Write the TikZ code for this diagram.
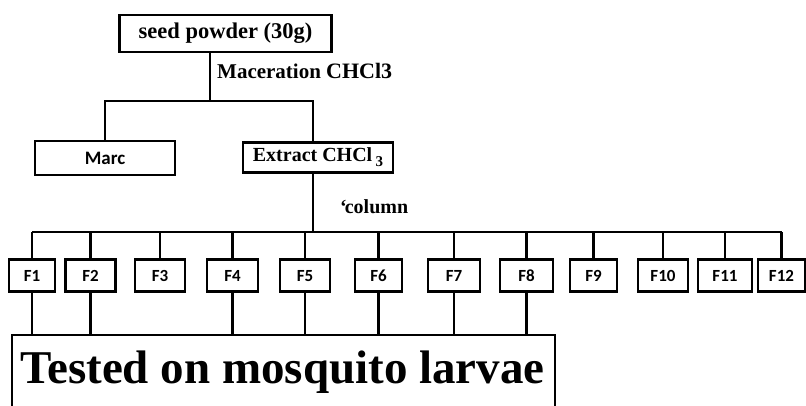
\documentclass[tikz,border=0pt]{standalone}
\usepackage{fontspec}
\setmainfont{Liberation Serif}
\newfontfamily\fsans{Carlito}
\begin{document}
\begin{tikzpicture}[x=1pt,y=-1pt,
  box/.style={draw, inner sep=0pt, line width=2.2pt},
  conn/.style={line width=2.8pt},
  lbl/.style={anchor=base west, inner sep=0pt},
  fbox/.style={box, minimum height=32pt, text height=11pt, text depth=0pt, font=\fsans\bfseries\fontsize{17}{17}\selectfont}]
\useasboundingbox (0,0) rectangle (806,405);
% top
\node[box, minimum width=212pt, minimum height=37pt, font=\bfseries\fontsize{22.5}{24}\selectfont] (seed) at (225.5,33.5) {seed powder (30g)};
\node[lbl, font=\bfseries\fontsize{21}{21}\selectfont] (mac) at (217,78) {Maceration {\fontsize{22}{22}\selectfont CHCl3}};
\coordinate (j1) at (210,101);
\coordinate (j1r) at (313,101);
\node[box, minimum width=140pt, minimum height=34pt, font=\fsans\bfseries\fontsize{19}{19}\selectfont] (marc) at (105,158) {Marc};
\node[box, minimum width=150pt, minimum height=30pt, font=\bfseries\fontsize{20}{20}\selectfont] (extract) at (318,157.5) {Extract CHCl\,\raisebox{-5pt}{\fontsize{15}{15}\selectfont 3}};
\draw[conn] (j1 |- seed.south) -- (j1);
\draw[conn] (marc.north) |- (j1r) -- (j1r |- extract.north);
% column
\node[lbl, font=\bfseries\fontsize{20}{20}\selectfont] (col) at (340,213) {‘\kern-2pt column};
\coordinate (j2) at (313,232);
\draw[conn] (j2 |- extract.south) -- (j2);
% fractions
\foreach \i/\x/\w in {1/32/46,2/90.5/50,3/160/50,4/232.5/51,5/305/50,6/378.5/47,7/454/52,8/526.5/53,9/593.5/47,10/663/50,11/725/54,12/781.5/47}
  \node[fbox, minimum width=\w pt] (f\i) at (\x,275.5) {F\i};
\draw[conn] (f1.north |- j2) -- (f12.north |- j2);
\foreach \i in {1,...,12}
  \draw[conn] (f\i.north) -- (f\i.north |- j2);
% test box
\node[draw, line width=2.2pt, minimum width=543pt, minimum height=90pt, inner sep=0pt] (test) at (283.5,380) {};
\node[lbl, font=\bfseries\fontsize{47}{47}\selectfont] (testtxt) at (20,383) {Tested on mosquito larvae};
\foreach \i in {1,2,4,5,6,7,8}
  \draw[conn] (f\i.south) -- (f\i.south |- test.north);
\end{tikzpicture}
\end{document}
